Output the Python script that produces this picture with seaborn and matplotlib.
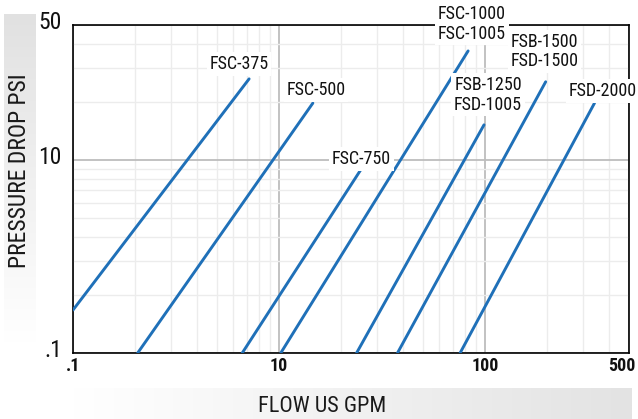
import numpy as np
import pandas as pd
import matplotlib
matplotlib.use("Agg")
import matplotlib.pyplot as plt
import matplotlib.transforms as mtransforms
from matplotlib.colors import LinearSegmentedColormap
import seaborn as sns
from matplotlib.ticker import FixedLocator, FixedFormatter, LogLocator, NullFormatter

# Filter models and their pressure-drop curves (flow in US GPM, drop in PSI)
models = ["FSC-375", "FSC-500", "FSC-750", "FSC-1000\nFSC-1005",
          "FSB-1250\nFSD-1005", "FSB-1500\nFSD-1500", "FSD-2000"]
flow_start = [1.0, 2.06, 6.63, 10.2, 23.8, 37.6, 75.7]
flow_end = [7.16, 14.6, 24.9, 82.8, 98.9, 197.0, 340.0]
drop_start = [1.67, 1.0, 1.0, 1.0, 1.0, 1.0, 1.0]
drop_end = [26.3, 19.7, 8.87, 36.7, 15.2, 25.4, 19.7]

x_ticks = [1, 10, 100, 500]
x_tick_labels = [".1", "10", "100", "500"]
y_ticks = [1, 10, 50]
y_tick_labels = [".1", "10", "50"]

# label placement relative to each curve's upper end (pixels)
label_offsets = [(-10, 17), (3, 15), (1, 13), (4, 27), (4, 30), (-1, 30), (8, 14)]

LINE_BLUE = "#1f70b8"
FONT = ["Roboto Condensed", "Archivo Narrow", "PT Sans Narrow", "Liberation Sans", "DejaVu Sans"]

df = pd.DataFrame({
    "model": models * 2,
    "flow": flow_start + flow_end,
    "drop": drop_start + drop_end,
})

sns.set_theme(style="white")
plt.rcParams["font.family"] = FONT

W, H = 638, 419
fig = plt.figure(figsize=(W / 100, H / 100), dpi=100)

# gradient bands behind the axis titles
band_y = fig.add_axes([4 / W, (H - 343) / H, 32 / W, 329 / H], zorder=0)
grad_v = np.linspace(0, 1, 256).reshape(-1, 1)
band_y.imshow(grad_v, aspect="auto",
              cmap=LinearSegmentedColormap.from_list("gv", ["#e1e1e1", "#f0f0f0", "#ffffff"]),
              extent=[0, 1, 0, 1], origin="upper")
band_y.set_axis_off()
fig.text(20 / W, 1 - 171 / H, "PRESSURE DROP PSI", rotation=90, ha="center", va="center",
         fontsize=17, color="#1a1a1a")

band_x = fig.add_axes([73 / W, 0, 559 / W, 31 / H], zorder=0)
grad_h = np.linspace(0, 1, 256).reshape(1, -1)
band_x.imshow(grad_h, aspect="auto",
              cmap=LinearSegmentedColormap.from_list("gh", ["#ffffff", "#e3e3e3"]),
              extent=[0, 1, 0, 1])
band_x.set_axis_off()
fig.text(322 / W, 1 - 403.5 / H, "FLOW US GPM", ha="center", va="center_baseline",
         fontsize=16, color="#1a1a1a")

ax = fig.add_axes([73 / W, (H - 353) / H, 556 / W, 328 / H], zorder=2)
ax.set_xscale("log")
ax.set_yscale("log")
ax.set_xlim(1, 500)
ax.set_ylim(1, 50)

sns.lineplot(data=df, x="flow", y="drop", hue="model", units="model", estimator=None,
             palette=[LINE_BLUE] * len(models), linewidth=2.1, legend=False, ax=ax,
             sort=True, zorder=3)

ax.xaxis.set_major_locator(FixedLocator(x_ticks))
ax.xaxis.set_major_formatter(FixedFormatter(x_tick_labels))
ax.yaxis.set_major_locator(FixedLocator(y_ticks))
ax.yaxis.set_major_formatter(FixedFormatter(y_tick_labels))
for axis in (ax.xaxis, ax.yaxis):
    axis.set_minor_locator(LogLocator(base=10, subs=np.arange(2, 10)))
    axis.set_minor_formatter(NullFormatter())

ax.grid(which="minor", color="#ececec", linewidth=1.0, zorder=0)
ax.grid(which="major", color="#bdbdbd", linewidth=1.3, zorder=1)
ax.set_axisbelow(True)
ax.tick_params(which="both", length=0)
ax.tick_params(axis="x", pad=3, labelsize=13)
ax.tick_params(axis="y", pad=8, labelsize=17)
fig.canvas.draw()
for lbl in ax.get_xticklabels():
    lbl.set_fontweight("bold")
    lbl.set_color("#111111")
    if lbl.get_text() == x_tick_labels[-1]:
        lbl.set_transform(lbl.get_transform() + mtransforms.ScaledTranslation(-7 / 100, 0, fig.dpi_scale_trans))
for lbl in ax.get_yticklabels():
    lbl.set_color("#111111")
    lbl.set_transform(lbl.get_transform() + mtransforms.ScaledTranslation(0, 5 / 100, fig.dpi_scale_trans))

for sp in ax.spines.values():
    sp.set_color("black")
    sp.set_linewidth(1.2)
    sp.set_visible(True)

ax.set_xlabel("")
ax.set_ylabel("")

for name, xe, ye, (dx, dy) in zip(models, flow_end, drop_end, label_offsets):
    ax.annotate(name, xy=(xe, ye), xytext=(dx, dy), textcoords="offset pixels",
                ha="center", va="center_baseline" if "\n" not in name else "center",
                fontsize=13, color="#111111",
                linespacing=1.1, annotation_clip=False, zorder=6,
                bbox=dict(boxstyle="square,pad=0.15", fc="white", ec="none"))

fig.savefig("out.png", dpi=100)
